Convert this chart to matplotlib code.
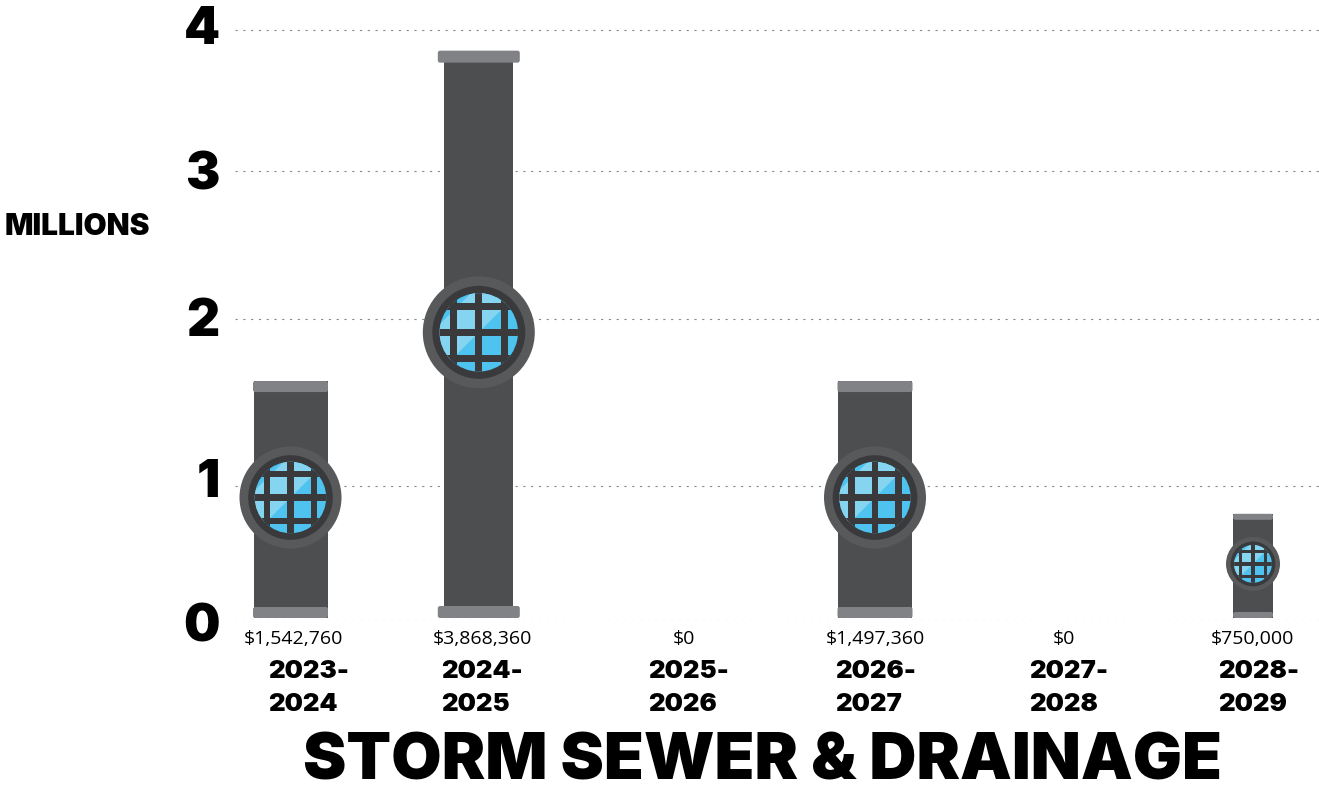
import numpy as np
import matplotlib
matplotlib.use('Agg')
import matplotlib.pyplot as plt
from matplotlib.patches import Rectangle, FancyBboxPatch, Ellipse, Polygon
from matplotlib.transforms import ScaledTranslation

# data
years = ['2023-\n2024', '2024-\n2025', '2025-\n2026', '2026-\n2027', '2027-\n2028', '2028-\n2029']
amounts = ['$1,542,760', '$3,868,360', '$0', '$1,497,360', '$0', '$750,000']
# pipe heights as drawn, read against the axis (millions)
heights = [1.62, 3.86, 0, 1.62, 0, 0.72]
tick_vals = [0, 0.908, 2.041, 3.044, 4.0]
tick_labels = ['0', '1', '2', '3', '4']

# layout, in pixels
W, H = 1319, 791
X0, STEP = 293, 191.8
tick_nudge = [0, -2, 7, 7, 4, 0]
pipe_nudge = [-2.5, -6, 0, 6.6, 0, 1]
year_left = [-25, -44, -28.6, -33, -31, -34]
pipe_w = [74, 69, 0, 74, 0, 40]
cap_w = [75, 82, 0, 75, 0, 40]
cap_h = [11, 12, 0, 11, 0, 6]
ring_r = [51, 56, 0, 51, 0, 27]
PX_Y = 147.5

BODY, CAP, RING, DARK = '#4d4e50', '#808285', '#58595b', '#3a3a3c'
BLUE, LIGHT = '#4ec3ef', '#86d5f0'
HEAVY = 'Inter'

fig = plt.figure(figsize=(W / 100, H / 100), dpi=100)
ax = fig.add_axes([235 / W, 1 - 620 / H, (W - 235) / W, 600 / H])
ax.set_xlim((235 - X0) / STEP, (W - X0) / STEP)
ax.set_ylim(0, 600 / PX_Y)
sx, sy = 1 / STEP, 1 / PX_Y


def draw_pipe(x, h, w, cw, ch, r):
    base = 2 * sy
    ax.add_patch(Rectangle((x - w / 2 * sx, base), w * sx, h - base, fc=BODY, ec='none', zorder=3))
    for y0 in (base, h - ch * sy):
        ax.add_patch(FancyBboxPatch((x - cw / 2 * sx, y0), cw * sx, ch * sy, boxstyle='round,pad=0,rounding_size=0.012',
                                    mutation_aspect=STEP / PX_Y, fc=CAP, ec='none', zorder=4))
    cy = h / 2 + 3 * sy
    ax.add_patch(Ellipse((x, cy), 2 * r * sx, 2 * r * sy, fc=RING, ec='none', zorder=5))
    ax.add_patch(Ellipse((x, cy), 2 * r * .83 * sx, 2 * r * .83 * sy, fc=DARK, ec='none', zorder=6))
    gr = r * .70
    glass = Ellipse((x, cy), 2 * gr * sx, 2 * gr * sy, fc=BLUE, ec='none', zorder=7)
    ax.add_patch(glass)
    # light diagonal band over the glass
    band = Polygon([(x + a * gr * sx, cy + b * gr * sy) for a, b in
                    [(-1.5, -1.5), (1.5, 1.5), (1.5, 2.7), (-1.5, -0.3)]],
                   fc=LIGHT, ec='none', zorder=8)
    ax.add_patch(band)
    band.set_clip_path(glass)
    # strainer bars
    bw, gap = r * .125, r * .46
    for off in (-gap, 0, gap):
        v = Rectangle((x + (off - bw / 2) * sx, cy - r * sy), bw * sx, 2 * r * sy, fc=DARK, ec='none', zorder=9)
        g = Rectangle((x - r * sx, cy + (off - bw / 2) * sy), 2 * r * sx, bw * sy, fc=DARK, ec='none', zorder=9)
        ax.add_patch(v)
        ax.add_patch(g)
        v.set_clip_path(glass)
        g.set_clip_path(glass)


base_x = np.arange(len(years))
for i, h in enumerate(heights):
    if h > 0:
        draw_pipe(base_x[i] + pipe_nudge[i] * sx, h, pipe_w[i], cap_w[i], cap_h[i], ring_r[i])

for s in ax.spines.values():
    s.set_visible(False)
ax.set_yticks(tick_vals, tick_labels, fontsize=37, fontweight='black', family=HEAVY)
ax.set_xticks(base_x + np.array(tick_nudge) * sx, amounts, fontsize=14, family='Open Sans')
ax.tick_params(length=0)
ax.tick_params(axis='y', pad=11)
ax.tick_params(axis='x', pad=7)
ax.grid(axis='y', color='#8a8a8a', lw=0.8, linestyle=(0, (2, 5)), zorder=1)
ax.set_axisbelow(True)
for lab, dy in zip(ax.get_yticklabels(), [-2, 8, 2, 1, 5]):
    lab.set_transform(lab.get_transform() + ScaledTranslation(0, dy / 100, fig.dpi_scale_trans))

for i, y in enumerate(years):
    ax.annotate(y, (base_x[i], 0), xytext=(year_left[i], -40), xycoords='data', textcoords='offset pixels',
                ha='left', va='top', fontsize=18.5, fontweight='black', family=HEAVY, linespacing=1.55, annotation_clip=False)

fig.text(77 / W, 1 - 227 / H, 'MILLIONS', ha='center', va='center', fontsize=21.5, fontweight='black', family=HEAVY)
fig.text(762 / W, 1 - 762 / H, 'STORM SEWER & DRAINAGE', ha='center', va='center', fontsize=47, fontweight='black', family=HEAVY)

fig.savefig('out.png', dpi=100)
